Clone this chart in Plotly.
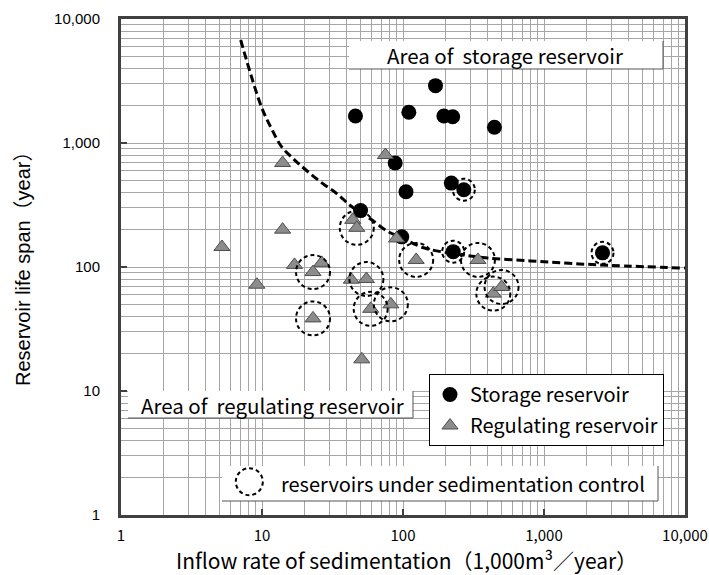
import plotly.graph_objects as go

# ---------------- data ----------------
storage_x = [46, 170, 110, 195, 225, 445, 88, 105, 220, 270, 50, 98, 227, 2600]
storage_y = [1650, 2900, 1770, 1650, 1630, 1340, 690, 405, 475, 420, 285, 175, 133, 130]
storage_ctrl = [0, 0, 0, 0, 0, 0, 0, 0, 0, 1, 0, 0, 1, 1]

regulating_x = [14, 75, 44, 47, 14, 5.2, 17, 26.5, 23, 9.2, 23, 43, 55, 59, 51, 90, 124, 340, 437, 500, 82]
regulating_y = [690, 800, 240, 207, 200, 145, 104, 108, 91, 72, 38.5, 79, 80, 46, 18, 170, 114, 114, 61, 69, 50]
regulating_ctrl = [0, 0, 0, 1, 0, 0, 0, 0, 1, 0, 1, 0, 1, 1, 0, 0, 1, 1, 1, 1, 1]

curve_x = [7.06, 9.9, 11.7, 13.8, 16.6, 20.7, 27, 34, 42, 50, 60, 77, 98, 140, 230, 400, 800, 1500, 3000, 10000]
curve_y = [6770, 1960, 1300, 930, 750, 600, 470, 390, 315, 275, 240, 195, 172, 143, 128, 118, 112, 107, 103, 98]

tick_vals = [1, 10, 100, 1000, 10000]
tick_text = ["1", "10", "100", "1,000", "10,000"]

# ---------------- layout helpers ----------------
W, H = 709, 575
L, R, T, B = 121, 685, 19, 515
DEC_X = (R - L) / 4.0   # pixels per decade
DEC_Y = (B - T) / 4.0


def px(x):
    return (x - L) / (R - L)


def py(y):
    return (B - y) / (B - T)


JP = "Noto Sans CJK JP"
AR = "Liberation Sans, Arial"

fig = go.Figure()

fig.add_trace(go.Scatter(
    x=curve_x, y=curve_y, mode="lines", showlegend=False, hoverinfo="skip",
    line=dict(color="black", width=3, dash="8px,4px", shape="spline", smoothing=1.0),
))

fig.add_trace(go.Scatter(
    x=storage_x, y=storage_y, mode="markers", name="Storage reservoir",
    legendgroup="a",
    marker=dict(symbol="circle", size=15, color="black", line=dict(width=0)),
))

fig.add_trace(go.Scatter(
    x=regulating_x, y=regulating_y, mode="markers", name="Regulating reservoir",
    legendgroup="b",
    marker=dict(symbol="triangle-up", size=14, color="#8c8c8c",
                line=dict(width=1, color="#4d4d4d")),
))

shapes = []


def box(x0, y0, x1, y1):
    shapes.append(dict(type="rect", xref="paper", yref="paper",
                       x0=px(x0), x1=px(x1), y0=py(y1), y1=py(y0),
                       fillcolor="white", line=dict(width=0), layer="above"))
    shapes.append(dict(type="line", xref="paper", yref="paper",
                       x0=px(x0), x1=px(x1), y0=py(y1), y1=py(y1),
                       line=dict(color="#555555", width=1), layer="above"))
    shapes.append(dict(type="line", xref="paper", yref="paper",
                       x0=px(x1), x1=px(x1), y0=py(y1), y1=py(y0),
                       line=dict(color="#555555", width=1), layer="above"))


box(349, 41, 663, 69)
box(128, 391, 413, 418)
box(222, 466, 658, 501)

# dashed rings around reservoirs under sedimentation control
for xs, ys, cs, d in [(storage_x, storage_y, storage_ctrl, 22),
                      (regulating_x, regulating_y, regulating_ctrl, 34)]:
    fx = 10 ** ((d / 2) / DEC_X)
    fy = 10 ** ((d / 2) / DEC_Y)
    for xv, yv, c in zip(xs, ys, cs):
        if c:
            shapes.append(dict(
                type="circle", xref="x", yref="y",
                x0=xv / fx, x1=xv * fx, y0=yv / fy, y1=yv * fy,
                line=dict(color="black", width=2, dash="4px,3px"),
                layer="above",
            ))

# dashed circle symbol in the note box
shapes.append(dict(type="circle", xref="paper", yref="paper",
                   x0=px(249.3 - 13.5), x1=px(249.3 + 13.5),
                   y0=py(481.7 + 13.5), y1=py(481.7 - 13.5),
                   line=dict(color="black", width=2, dash="4px,3px"),
                   layer="above"))

ann_common = dict(xref="paper", yref="paper", showarrow=False,
                  xanchor="center", yanchor="middle")
annotations = [
    dict(ann_common, text="Area of\u00a0 storage reservoir", x=px(505), y=py(55),
         font=dict(family=JP, size=20.5, color="black")),
    dict(ann_common, text="Area of\u00a0 regulating reservoir", x=px(272), y=py(405),
         font=dict(family=JP, size=20.5, color="black")),
    dict(ann_common, text="reservoirs under sedimentation control", x=px(462.5), y=py(483),
         font=dict(family=JP, size=20, color="black")),
    dict(ann_common, text="Inflow rate of sedimentation（1,000m³／year）",
         x=px(406), y=py(560), font=dict(family=JP, size=21, color="black")),
    dict(ann_common, text="Reservoir life span（year）", textangle=-90,
         x=px(23), y=py(264), font=dict(family=AR + ", " + JP, size=20, color="black")),
]

grid_c = "#a6a6a6"
axis_common = dict(
    type="log", tickvals=tick_vals, ticktext=tick_text, automargin=False,
    showgrid=True, gridcolor=grid_c, gridwidth=1,
    minor=dict(showgrid=True, gridcolor=grid_c, gridwidth=1, dtick="D1", ticks=""),
    showline=True, linecolor="#404040", linewidth=3, mirror=True,
    ticks="inside", ticklen=6, tickwidth=2, tickcolor="#404040",
    zeroline=False,
)

fig.update_layout(
    width=W, height=H,
    margin=dict(l=L, r=W - R, t=T, b=H - B, autoexpand=False),
    paper_bgcolor="white", plot_bgcolor="white",
    xaxis=dict(axis_common, range=[0, 4],
               tickfont=dict(family=JP, size=15, color="black"),
               ticklabelstandoff=5),
    yaxis=dict(axis_common, range=[0, 4],
               tickfont=dict(family=AR, size=15, color="black"),
               ticklabelstandoff=15),
    shapes=shapes,
    annotations=annotations,
    showlegend=True,
    legend=dict(x=px(429), y=py(374), xanchor="left", yanchor="top",
                bgcolor="white", bordercolor="black", borderwidth=1,
                font=dict(family=JP, size=20, color="black"),
                tracegroupgap=2, itemwidth=30),
)

fig.write_html("out.html")
